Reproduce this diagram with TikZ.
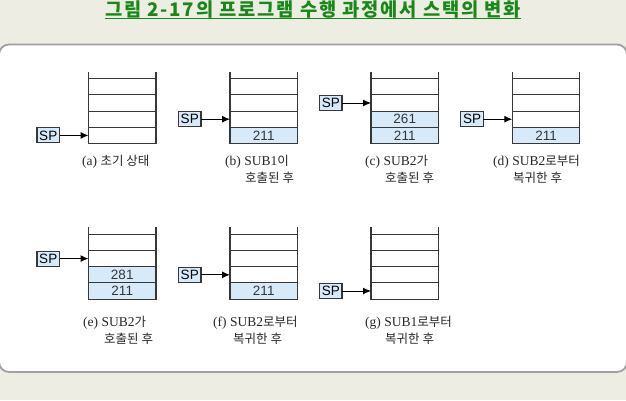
\documentclass[tikz,border=0pt]{standalone}
\usepackage{fontspec}
\usetikzlibrary{arrows.meta}
\newfontfamily\kr{Noto Sans CJK KR}
\newfontfamily\lser{Liberation Serif}
\newfontfamily\arl{Liberation Sans}
\definecolor{bgc}{RGB}{237,237,228}
\definecolor{tgreen}{RGB}{24,136,24}
\definecolor{pborder}{RGB}{160,160,160}
\definecolor{lgray}{RGB}{55,55,55}
\definecolor{cblue}{RGB}{214,234,250}
\definecolor{ltext}{RGB}{40,40,40}
\newcommand\lbl[1]{{\lser\fontsize{13.5}{15}\selectfont #1}}
\newcommand\hk[1]{{\kr\fontsize{12.5}{15}\selectfont #1}}
\tikzset{
  cell/.style={draw=lgray, line width=1.1pt, fill=white, minimum width=67.5pt, minimum height=16.2pt, inner sep=0pt, outer sep=0pt, text=lgray, font=\arl\fontsize{13.5}{14}\selectfont},
  fcell/.style={cell, fill=cblue},
  spbox/.style={draw=lgray, line width=1.1pt, fill=cblue, minimum width=22.5pt, minimum height=15pt, inner sep=0pt, outer sep=0pt, text=black, font=\arl\fontsize{13.5}{14}\selectfont},
  arr/.style={-{Latex[length=8pt,width=7pt]}, line width=1pt, black},
  stub/.style={draw=lgray, line width=1.1pt},
  capt/.style={anchor=base west, inner sep=0pt, text=ltext}
}
% #1 name, #2 left x, #3 top y, #4 style row3, #5 text row3, #6 style row4, #7 text row4
\newcommand\mkstack[7]{%
  \node[cell] (#11) at ({#2+33.75},{#3-1.1+16.2}) {};
  \node[cell] (#12) at ({#2+33.75},{#3-1.1+32.4}) {};
  \node[#4] (#13) at ({#2+33.75},{#3-1.1+48.6}) {#5};
  \node[#6] (#14) at ({#2+33.75},{#3-1.1+64.8}) {#7};
  \draw[stub] (#11.north west) -- ++(0,-7);
  \draw[stub] (#11.north east) -- ++(0,-7);
}
\begin{document}
\begin{tikzpicture}[x=1pt,y=-1pt]
\useasboundingbox (0,0) rectangle (626,400);
\fill[bgc] (0,0) rectangle (626,400);
% title
\node[anchor=base, inner sep=0pt, text=tgreen, font=\kr\bfseries\fontsize{18.7}{19}\selectfont] (title) at (313,16.5) {\addfontfeature{LetterSpace=10}그림 2-17의 프로그램 수행 과정에서 스택의 변화};
\draw[tgreen, line width=1.4pt] ([yshift=-2.2pt]title.base west) -- ([yshift=-2.2pt]title.base east);
% panel
\draw[pborder, fill=white, rounded corners=10pt, line width=1.8pt] (-1,44.5) rectangle (627,372);
% stacks, top row
\mkstack{a}{88.5}{71.7}{cell}{}{cell}{}
\mkstack{b}{230}{71.7}{cell}{}{fcell}{211}
\mkstack{c}{371}{71.7}{fcell}{261}{fcell}{211}
\mkstack{d}{512.3}{71.7}{cell}{}{fcell}{211}
% stacks, bottom row
\mkstack{e}{88.5}{227.3}{fcell}{281}{fcell}{211}
\mkstack{f}{230}{227.3}{cell}{}{fcell}{211}
\mkstack{g}{371}{227.3}{cell}{}{cell}{}
% stack pointers
\node[spbox, anchor=east] (spa) at ([xshift=-29pt]a4.west) {SP};
\node[spbox, anchor=east] (spb) at ([xshift=-29pt]b3.west) {SP};
\node[spbox, anchor=east] (spc) at ([xshift=-29pt]c2.west) {SP};
\node[spbox, anchor=east] (spd) at ([xshift=-29pt]d3.west) {SP};
\node[spbox, anchor=east] (spe) at ([xshift=-29pt]e2.west) {SP};
\node[spbox, anchor=east] (spf) at ([xshift=-29pt]f3.west) {SP};
\node[spbox, anchor=east] (spg) at ([xshift=-29pt]g4.west) {SP};
\draw[arr] (spa.east) -- (a4.west);
\draw[arr] (spb.east) -- (b3.west);
\draw[arr] (spc.east) -- (c2.west);
\draw[arr] (spd.east) -- (d3.west);
\draw[arr] (spe.east) -- (e2.west);
\draw[arr] (spf.east) -- (f3.west);
\draw[arr] (spg.east) -- (g4.west);
% captions
\node[capt] (la) at (82,165) {\lbl{(a) }\hk{초기 상태}};
\node[capt] (lb1) at (225,165) {\lbl{(b) SUB1}\hk{이}};
\node[capt] (lb2) at (245,182) {\hk{호출된 후}};
\node[capt] (lc1) at (365,165) {\lbl{(c) SUB2}\hk{가}};
\node[capt] (lc2) at (385,182) {\hk{호출된 후}};
\node[capt] (ld1) at (493,165) {\lbl{(d) SUB2}\hk{로부터}};
\node[capt] (ld2) at (513,182) {\hk{복귀한 후}};
\node[capt] (le1) at (83,326) {\lbl{(e) SUB2}\hk{가}};
\node[capt] (le2) at (104,343) {\hk{호출된 후}};
\node[capt] (lf1) at (213,326) {\lbl{(f) SUB2}\hk{로부터}};
\node[capt] (lf2) at (233,343) {\hk{복귀한 후}};
\node[capt] (lg1) at (365,326) {\lbl{(g) SUB1}\hk{로부터}};
\node[capt] (lg2) at (385,343) {\hk{복귀한 후}};
\end{tikzpicture}
\end{document}
